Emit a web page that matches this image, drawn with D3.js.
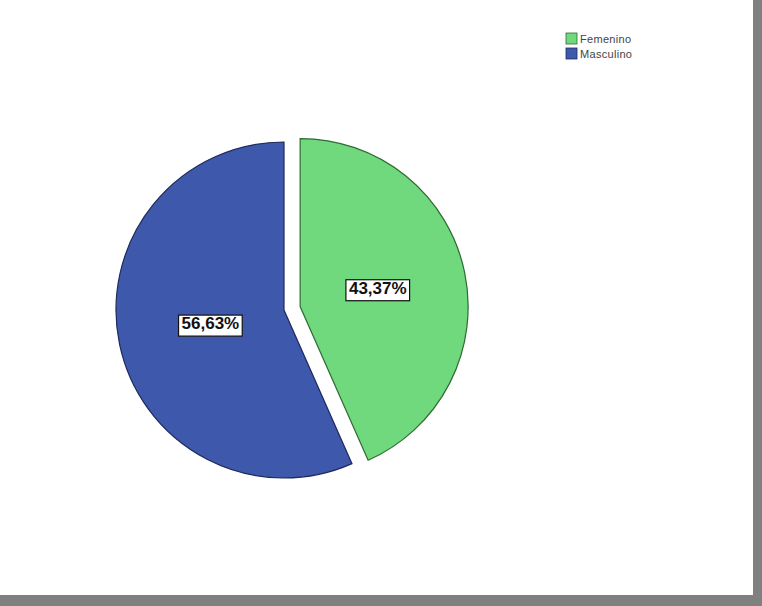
<!DOCTYPE html>
<html>
<head>
<meta charset="utf-8">
<script src="https://cdn.jsdelivr.net/npm/d3@7"></script>
<style>
  body { margin: 0; background: #fff; }
  svg { display: block; }
</style>
</head>
<body>
<div class="chart"></div>
<script>
const categories = ['Femenino', 'Masculino'];
const values = [43.37, 56.63];
const labels = ['43,37%', '56,63%'];
const colors = ['#70d87d', '#3e58ac'];
const strokes = ['#2f6b33', '#1e2b5c'];

const w = 762, h = 606;
const cx = 284, cy = 310, r = 168;
const explode = 16.5;

const svg = d3.select('.chart').append('svg')
  .attr('width', w).attr('height', h);

svg.append('rect').attr('width', w).attr('height', h).attr('fill', '#fff');
// gray frame on right and bottom
svg.append('rect').attr('x', 753).attr('y', 0).attr('width', 9).attr('height', h).attr('fill', '#808080');
svg.append('rect').attr('x', 0).attr('y', 595).attr('width', w).attr('height', 11).attr('fill', '#808080');

const pie = d3.pie().sort(null).value(d => d);
const arcs = pie(values);
const arc = d3.arc().innerRadius(0).outerRadius(r);
const labelArc = d3.arc().innerRadius(r * 0.46).outerRadius(r * 0.46);

const g = svg.append('g').attr('transform', `translate(${cx},${cy})`);

const slices = g.selectAll('g.slice').data(arcs).enter().append('g')
  .attr('class', 'slice')
  .attr('transform', (d, i) => {
    if (i !== 0) return null;
    const mid = (d.startAngle + d.endAngle) / 2;
    return `translate(${Math.sin(mid) * explode},${-Math.cos(mid) * explode})`;
  });

slices.append('path')
  .attr('d', arc)
  .attr('fill', (d, i) => colors[i])
  .attr('stroke', (d, i) => strokes[i])
  .attr('stroke-width', 1.2);

slices.each(function(d, i) {
  const [x, y] = labelArc.centroid(d);
  const lg = d3.select(this).append('g').attr('transform', `translate(${x + 2},${y - 3})`);
  const t = lg.append('text')
    .attr('text-anchor', 'middle')
    .attr('dy', '0.36em')
    .attr('font-family', 'Liberation Sans, Arial, sans-serif')
    .attr('font-size', 17)
    .attr('font-weight', 'bold')
    .attr('fill', '#111')
    .text(labels[i]);
  const bb = t.node().getBBox();
  lg.insert('rect', 'text')
    .attr('x', bb.x - 3).attr('y', bb.y + 1)
    .attr('width', bb.width + 6).attr('height', bb.height + 2)
    .attr('fill', '#fff').attr('stroke', '#111').attr('stroke-width', 1.2);
});

// legend
const legend = svg.append('g').attr('transform', 'translate(566,33)');
const items = legend.selectAll('g').data(categories).enter().append('g')
  .attr('transform', (d, i) => `translate(0,${i * 15})`);
items.append('rect')
  .attr('width', 11).attr('height', 11)
  .attr('fill', (d, i) => colors[i])
  .attr('stroke', (d, i) => strokes[i]).attr('stroke-width', 0.8);
items.append('text')
  .attr('x', 14).attr('y', 6).attr('dy', '0.35em')
  .attr('font-family', 'Liberation Sans, Arial, sans-serif')
  .attr('font-size', 11)
  .attr('letter-spacing', 0.3)
  .attr('fill', '#444')
  .text(d => d);
</script>
</body>
</html>
